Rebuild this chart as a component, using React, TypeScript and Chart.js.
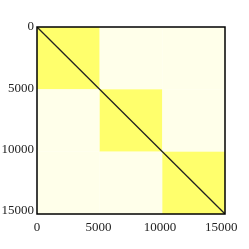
import React, { useEffect, useRef } from "react";
import { Chart, registerables } from "chart.js";

Chart.register(...registerables);

// Matrix extent and domain boundaries (bins)
const matrixSize = 15300;
const tickValues = [0, 5000, 10000, 15000];
const blockEdges = [0, 5100, 10200, 15300];
// relative contact intensity: 1 within domain, low between domains
const intraValue = 1;
const interValue = 0.06;
// diagonal line
const diagonalX = [0, 15300];
const diagonalY = [0, 15300];

function colorFor(v: number) {
  // interpolate from near-white cream to yellow
  const lo = [255, 255, 242];
  const hi = [255, 255, 108];
  const c = lo.map((l, k) => Math.round(l + (hi[k] - l) * v));
  return `rgb(${c[0]},${c[1]},${c[2]})`;
}

const blocksPlugin = {
  id: "blocks",
  beforeDatasetsDraw(chart: any) {
    const { ctx, chartArea, scales } = chart;
    const xs = scales.x;
    const ys = scales.y;
    ctx.save();
    ctx.beginPath();
    ctx.rect(chartArea.left, chartArea.top, chartArea.right - chartArea.left, chartArea.bottom - chartArea.top);
    ctx.clip();
    for (let i = 0; i < blockEdges.length - 1; i++) {
      for (let j = 0; j < blockEdges.length - 1; j++) {
        const x0 = xs.getPixelForValue(blockEdges[i]);
        const x1 = xs.getPixelForValue(blockEdges[i + 1]);
        const y0 = ys.getPixelForValue(blockEdges[j]);
        const y1 = ys.getPixelForValue(blockEdges[j + 1]);
        ctx.fillStyle = colorFor(i === j ? intraValue : interValue);
        ctx.fillRect(Math.min(x0, x1), Math.min(y0, y1), Math.abs(x1 - x0), Math.abs(y1 - y0));
      }
    }
    ctx.restore();
  },
  afterDatasetsDraw(chart: any) {
    const { ctx, chartArea } = chart;
    ctx.save();
    ctx.strokeStyle = "#000";
    ctx.lineWidth = 1.5;
    ctx.strokeRect(chartArea.left, chartArea.top, chartArea.right - chartArea.left, chartArea.bottom - chartArea.top);
    ctx.restore();
  },
};

export default function App() {
  const ref = useRef<HTMLCanvasElement>(null);
  useEffect(() => {
    document.body.style.margin = "0";
    const font = { family: "'Liberation Serif', serif", size: 13 };
    const fmt = (v: any) => String(v);
    const chart = new Chart(ref.current as HTMLCanvasElement, {
      type: "scatter",
      data: {
        datasets: [
          {
            data: diagonalX.map((x, i) => ({ x, y: diagonalY[i] })),
            showLine: true,
            borderColor: "#222",
            borderWidth: 1.3,
            pointRadius: 0,
          },
        ],
      },
      options: {
        animation: false,
        responsive: false,
        layout: { padding: { top: 27, right: 24, left: 0, bottom: 0 } },
        plugins: { legend: { display: false }, tooltip: { enabled: false } },
        scales: {
          x: {
            type: "linear",
            min: 0,
            max: matrixSize,
            grid: { display: false, drawTicks: false },
            border: { display: false },
            ticks: { font, color: "#222", padding: 6, maxRotation: 0, callback: fmt },
            afterBuildTicks: (axis: any) => {
              axis.ticks = tickValues.map((v) => ({ value: v }));
            },
            afterFit: (axis: any) => {
              axis.height = 35;
            },
          },
          y: {
            type: "linear",
            reverse: true,
            min: 0,
            max: matrixSize,
            grid: { display: false, drawTicks: false },
            border: { display: false },
            ticks: { font, color: "#222", padding: 3, callback: fmt },
            afterBuildTicks: (axis: any) => {
              axis.ticks = tickValues.map((v) => ({ value: v }));
            },
            afterFit: (axis: any) => {
              axis.width = 37;
            },
          },
        },
      },
      plugins: [blocksPlugin],
    });
    return () => chart.destroy();
  }, []);
  return (
    <div style={{ width: 249, height: 249 }}>
      <canvas ref={ref} width={249} height={249} style={{ width: 249, height: 249, display: "block" }} />
    </div>
  );
}
